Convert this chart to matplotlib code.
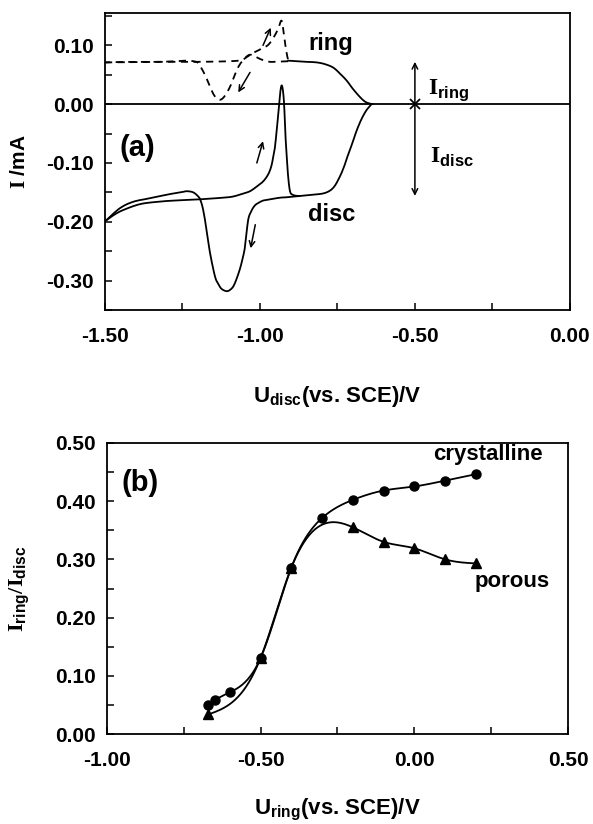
import numpy as np
import matplotlib
matplotlib.use("Agg")
import matplotlib.pyplot as plt
from matplotlib.ticker import MultipleLocator, FormatStrFormatter

plt.rcParams['font.family'] = ['Liberation Sans', 'DejaVu Sans']
plt.rcParams['font.weight'] = 'bold'
plt.rcParams['mathtext.fontset'] = 'custom'
plt.rcParams['mathtext.rm'] = 'Liberation Serif'
plt.rcParams['mathtext.bf'] = 'Liberation Sans:bold'

# ---- panel (a): disc / ring currents (mA) vs disc potential (V)
# disc, negative-going scan (from -0.64 V down to -1.5 V)
disc_fwd_u = [-0.640, -0.656, -0.672, -0.688, -0.703, -0.715, -0.727, -0.742, -0.763, -0.790,
              -0.830, -0.871, -0.903, -0.935, -0.968, -0.990, -1.005, -1.016, -1.027, -1.038,
              -1.048, -1.057, -1.065, -1.076, -1.086, -1.097, -1.108, -1.124, -1.135, -1.145,
              -1.161, -1.172, -1.183, -1.192, -1.199, -1.215, -1.235, -1.247, -1.270, -1.301,
              -1.355, -1.409, -1.452, -1.497]
disc_fwd_i = [0.000, -0.010, -0.025, -0.045, -0.068, -0.085, -0.104, -0.123, -0.142, -0.151,
              -0.154, -0.156, -0.158, -0.159, -0.162, -0.164, -0.168, -0.172, -0.181, -0.197,
              -0.242, -0.265, -0.281, -0.298, -0.310, -0.316, -0.318, -0.314, -0.305, -0.293,
              -0.253, -0.214, -0.180, -0.163, -0.157, -0.150, -0.148, -0.149, -0.151, -0.154,
              -0.160, -0.166, -0.177, -0.198]
# disc, positive-going scan back
disc_ret_u = [-1.497, -1.470, -1.441, -1.387, -1.330, -1.280, -1.200, -1.118, -1.086, -1.054,
              -1.032, -1.010, -0.989, -0.973, -0.963, -0.957, -0.952, -0.945, -0.938, -0.934,
              -0.930, -0.926, -0.922, -0.918, -0.914, -0.909, -0.903, -0.895, -0.880, -0.871]
disc_ret_i = [-0.198, -0.188, -0.180, -0.170, -0.166, -0.164, -0.162, -0.159, -0.157, -0.152,
              -0.148, -0.140, -0.131, -0.119, -0.105, -0.089, -0.075, -0.040, 0.000, 0.022,
              0.032, 0.024, 0.000, -0.050, -0.085, -0.123, -0.148, -0.154, -0.156, -0.156]
# ring, negative-going scan (dashed)
ring_fwd_u = [-0.909, -0.968, -1.000, -1.027, -1.045, -1.070, -1.097, -1.118, -1.134, -1.151,
              -1.172, -1.194, -1.206, -1.236, -1.268, -1.328, -1.420, -1.500]
ring_fwd_i = [0.073, 0.072, 0.077, 0.084, 0.080, 0.063, 0.029, 0.011, 0.008, 0.018,
              0.044, 0.066, 0.072, 0.074, 0.073, 0.072, 0.072, 0.071]
# ring, positive-going scan (dashed)
ring_ret_u = [-1.500, -1.300, -1.200, -1.100, -1.060, -1.040, -1.022, -1.000, -0.973, -0.952,
              -0.940, -0.930, -0.923, -0.917, -0.912, -0.909]
ring_ret_i = [0.071, 0.072, 0.072, 0.073, 0.075, 0.081, 0.087, 0.093, 0.101, 0.117,
              0.130, 0.142, 0.120, 0.097, 0.082, 0.075]
# ring, common part (solid)
ring_u = [-0.909, -0.880, -0.850, -0.817, -0.790, -0.763, -0.740, -0.720, -0.700, -0.677,
          -0.660, -0.645, -0.635]
ring_i = [0.074, 0.073, 0.072, 0.071, 0.068, 0.062, 0.051, 0.040, 0.026, 0.012,
          0.004, 0.001, 0.000]

# ---- panel (b): collection ratio vs ring potential
cryst_u = [-0.67, -0.65, -0.60, -0.50, -0.40, -0.30, -0.20, -0.10, 0.00, 0.10, 0.20]
cryst_r = [0.050, 0.058, 0.072, 0.131, 0.286, 0.371, 0.402, 0.418, 0.425, 0.435, 0.446]
porous_u = [-0.67, -0.50, -0.40, -0.20, -0.10, 0.00, 0.10, 0.20]
porous_r = [0.034, 0.131, 0.286, 0.355, 0.330, 0.319, 0.300, 0.293]


def catmull(u, i, n=8):
    pts = np.column_stack([u, i])
    P = np.vstack([pts[0], pts, pts[-1]])
    out = []
    t = np.linspace(0, 1, n, endpoint=False)[:, None]
    for k in range(1, len(P) - 2):
        p0, p1, p2, p3 = P[k - 1], P[k], P[k + 1], P[k + 2]
        out.append(0.5 * (2 * p1 + (-p0 + p2) * t + (2 * p0 - 5 * p1 + 4 * p2 - p3) * t ** 2
                          + (-p0 + 3 * p1 - 3 * p2 + p3) * t ** 3))
    out.append(P[-2][None])
    out = np.vstack(out)
    return out[:, 0], out[:, 1]


def natural_spline(x, y, xs):
    x = np.asarray(x, float); y = np.asarray(y, float)
    n = len(x)
    h = np.diff(x)
    A = np.zeros((n, n)); r = np.zeros(n)
    A[0, 0] = A[-1, -1] = 1
    for k in range(1, n - 1):
        A[k, k - 1] = h[k - 1]; A[k, k] = 2 * (h[k - 1] + h[k]); A[k, k + 1] = h[k]
        r[k] = 3 * ((y[k + 1] - y[k]) / h[k] - (y[k] - y[k - 1]) / h[k - 1])
    c = np.linalg.solve(A, r)
    b = (y[1:] - y[:-1]) / h - h * (2 * c[:-1] + c[1:]) / 3
    d = (c[1:] - c[:-1]) / (3 * h)
    idx = np.clip(np.searchsorted(x, xs) - 1, 0, n - 2)
    dx = xs - x[idx]
    return y[idx] + b[idx] * dx + c[idx] * dx ** 2 + d[idx] * dx ** 3


def style_axes(ax):
    for s in ax.spines.values():
        s.set_linewidth(1.3)
    ax.tick_params(which='both', direction='in', top=False, right=False,
                   labelsize=15, width=1.1, length=5)
    for lab in ax.get_xticklabels() + ax.get_yticklabels():
        lab.set_fontweight('bold')


fig = plt.figure(figsize=(5.93, 8.24), dpi=100)
lw = 1.3

# ---------------- (a)
ax = fig.add_axes([0.177, 0.6238, 0.784, 0.3604])
ax.axhline(0, color='black', lw=lw)
for u, i in [(disc_fwd_u, disc_fwd_i), (disc_ret_u, disc_ret_i), (ring_u, ring_i)]:
    su, si = catmull(u, i)
    ax.plot(su, si, color='black', lw=lw, solid_capstyle='round')
for u, i in [(ring_fwd_u, ring_fwd_i), (ring_ret_u, ring_ret_i)]:
    su, si = catmull(u, i)
    ax.plot(su, si, color='black', lw=lw, linestyle=(0, (4, 3)))

ap = dict(arrowstyle='->', lw=1.1, color='black', shrinkA=0, shrinkB=0, mutation_scale=10)
ax.annotate('', xy=(-0.99, -0.063), xytext=(-1.01, -0.100), arrowprops=ap)
ax.annotate('', xy=(-1.03, -0.245), xytext=(-1.015, -0.205), arrowprops=ap)
ax.annotate('', xy=(-1.07, 0.020), xytext=(-1.032, 0.054), arrowprops=ap)
ax.annotate('', xy=(-0.965, 0.130), xytext=(-0.99, 0.100), arrowprops=ap)
ax.annotate('', xy=(-0.5, 0.072), xytext=(-0.5, 0.0), arrowprops=ap)
ax.annotate('', xy=(-0.5, -0.156), xytext=(-0.5, 0.0), arrowprops=ap)
ax.plot([-0.5], [0.0], marker='x', color='black', ms=7, mew=1.3)

ax.text(-0.458, 0.024, r'$\mathrm{I}_{\mathbf{ring}}$', fontsize=17, va='center', ha='left')
ax.text(-0.452, -0.090, r'$\mathrm{I}_{\mathbf{disc}}$', fontsize=17, va='center', ha='left')
ax.text(-0.845, 0.103, 'ring', fontsize=17, fontweight='bold', va='center', ha='left')
ax.text(-0.845, -0.188, 'disc', fontsize=17, fontweight='bold', va='center', ha='left')
ax.text(-1.452, -0.075, '(a)', fontsize=21, fontweight='bold', va='center', ha='left')

ax.set_xlim(-1.5, 0.0)
ax.set_ylim(-0.35, 0.155)
ax.xaxis.set_major_locator(MultipleLocator(0.5))
ax.xaxis.set_minor_locator(MultipleLocator(0.25))
ax.yaxis.set_major_locator(MultipleLocator(0.1))
ax.yaxis.set_minor_locator(MultipleLocator(0.05))
ax.xaxis.set_major_formatter(FormatStrFormatter('%.2f'))
ax.yaxis.set_major_formatter(FormatStrFormatter('%.2f'))
style_axes(ax)
ax.tick_params(axis='x', pad=12)
ax.tick_params(axis='y', pad=8)
ax.set_xlabel(r'U$_{\mathbf{disc}}$(vs. SCE)/V', fontsize=16, fontweight='bold')
ax.set_ylabel(r'$\mathrm{I}$ /mA', fontsize=15, fontweight='bold')
ax.xaxis.set_label_coords(0.5, -0.249)
ax.yaxis.set_label_coords(-0.163, 0.5)

# ---------------- (b)
bx = fig.add_axes([0.1804, 0.1089, 0.7774, 0.3538])
xs = np.linspace(cryst_u[0], cryst_u[-1], 300)
bx.plot(xs, natural_spline(cryst_u, cryst_r, xs), color='black', lw=lw)
xs = np.linspace(porous_u[0], porous_u[-1], 300)
bx.plot(xs, natural_spline(porous_u, porous_r, xs), color='black', lw=lw)
bx.plot(porous_u, porous_r, linestyle='none', marker='^', color='black', ms=6.5, zorder=3)
bx.plot(cryst_u, cryst_r, linestyle='none', marker='o', color='black', ms=6.5, zorder=4)

bx.text(0.062, 0.479, 'crystalline', fontsize=16, fontweight='bold', va='center', ha='left')
bx.text(0.197, 0.262, 'porous', fontsize=16, fontweight='bold', va='center', ha='left')
bx.text(-0.954, 0.431, '(b)', fontsize=21, fontweight='bold', va='center', ha='left')

bx.set_xlim(-1.0, 0.5)
bx.set_ylim(0.0, 0.5)
bx.xaxis.set_major_locator(MultipleLocator(0.5))
bx.xaxis.set_minor_locator(MultipleLocator(0.25))
bx.yaxis.set_major_locator(MultipleLocator(0.1))
bx.yaxis.set_minor_locator(MultipleLocator(0.05))
bx.xaxis.set_major_formatter(FormatStrFormatter('%.2f'))
bx.yaxis.set_major_formatter(FormatStrFormatter('%.2f'))
style_axes(bx)
bx.tick_params(axis='x', pad=12)
bx.tick_params(axis='y', pad=8)
bx.set_xlabel(r'U$_{\mathbf{ring}}$(vs. SCE)/V', fontsize=16, fontweight='bold')
bx.set_ylabel(r'$\mathrm{I}_{\mathbf{ring}}/\mathrm{I}_{\mathbf{disc}}$', fontsize=16)
bx.xaxis.set_label_coords(0.5, -0.215)
bx.yaxis.set_label_coords(-0.163, 0.5)

fig.savefig('out.png', dpi=100)
